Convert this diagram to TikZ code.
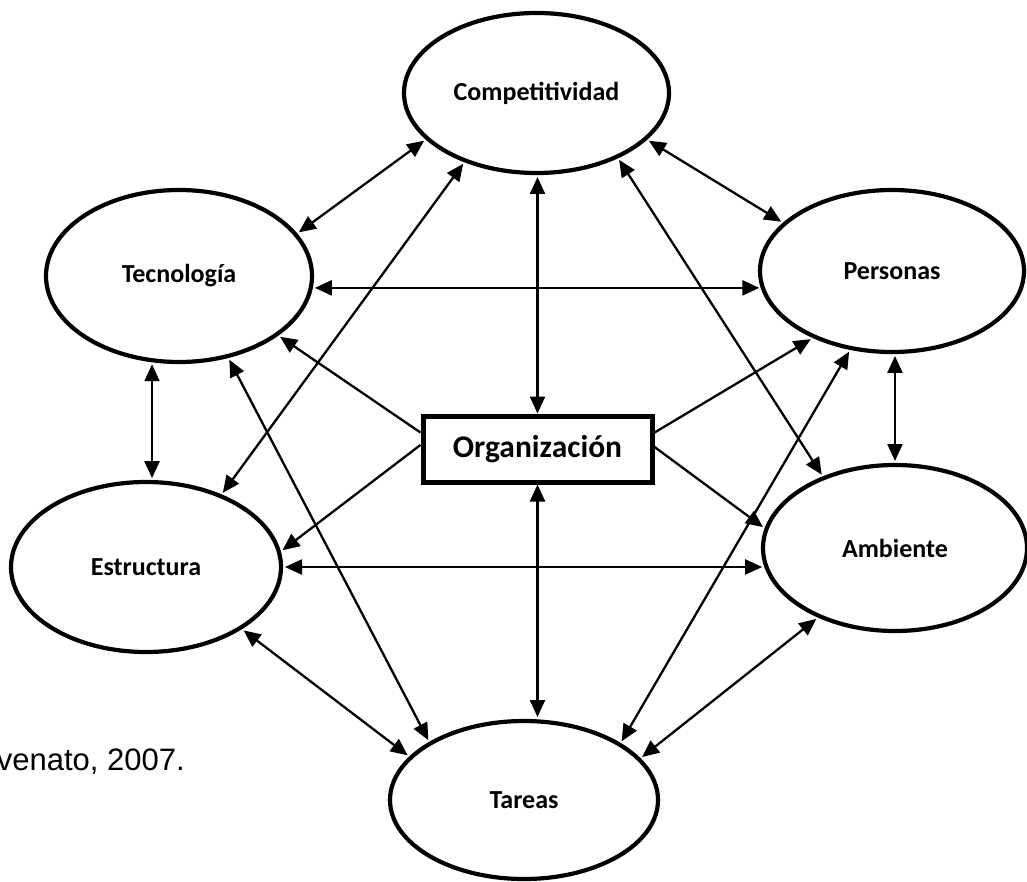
\documentclass[tikz,border=0pt]{standalone}
\usepackage{fontspec}
\setmainfont{Carlito}
\newfontfamily\citefont{Liberation Sans}
\usetikzlibrary{arrows.meta,shapes.geometric}

\begin{document}
\begin{tikzpicture}[x=1pt,y=-1pt,
  topic/.style={ellipse, draw, line width=4.2pt, inner sep=0pt, outer sep=4pt,
    font=\bfseries\fontsize{26}{30}\selectfont},
  core/.style={rectangle, draw, line width=5pt, inner sep=0pt, outer sep=2.5pt,
    minimum width=229pt, minimum height=66pt, font=\bfseries\fontsize{31.5}{36}\selectfont},
  tip/.tip={Triangle[length=17pt,width=15pt]},
  link/.style={line width=2.3pt, tip-tip},
  flow/.style={line width=2.3pt, -tip}]

\fill[white] (0,0) rectangle (1027,882);
\useasboundingbox (0,0) rectangle (1027,882);

% the six factors around the organisation
\node[topic, minimum width=265pt, minimum height=160pt] (comp) at (536.5,93) {Competitividad};
\node[topic, minimum width=266pt, minimum height=172pt] (tec)  at (179,276)  {Tecnología};
\node[topic, minimum width=264pt, minimum height=162pt] (pers) at (892,271)  {Personas};
\node[topic, minimum width=270pt, minimum height=170pt] (est)  at (146,567)  {Estructura};
\node[topic, minimum width=264pt, minimum height=166pt] (amb)  at (895,548)  {Ambiente};
\node[topic, minimum width=268pt, minimum height=158pt] (tar)  at (524,800)  {Tareas};

% central box
\node[core] (org) at (537.5,449) {Organización};

% source line, running off the left edge
\node[anchor=base east, inner sep=0pt, font=\citefont\fontsize{31}{36}\selectfont] (src) at (185,770) {venato, 2007.};

% mutual relations between the factors
\draw[link] (comp.203) -- (tec.20.5);
\draw[link] (comp.-23.3) -- (pers.156.4);
\draw[link] (tec.-5.9) -- (tec.-5.9 -| pers.188.4);
\draw[link] (tec.253.4) -- (tec.253.4 |- est.86.9);
\draw[link] (pers.-88) -- (pers.-88 |- amb.90);
\draw[link] (est.0) -- (est.0 -| amb.188.6);
\draw[link] (est.-33) -- (tar.159.9);
\draw[link] (amb.222.6) -- (tar.20.4);
\draw[link] (tec.-59.6) -- (tar.148);
\draw[link] (comp.224.8) -- (est.44.3);
\draw[link] (comp.-39.6) -- (amb.135.8);
\draw[link] (pers.242.6) -- (tar.31.5);

% the organisation and its surroundings
\draw[link] (comp.south -| org.north) -- (org.north);
\draw[link] (org.south) -- (org.south |- tar.north);
\draw[flow] (org.172.2) -- (tec.-31.5);
\draw[flow] (org.178.5) -- (est.7.9);
\draw[flow] (org.8.4) -- (pers.220.4);
\draw[flow] (org.1) -- (amb.171.4);
\end{tikzpicture}
\end{document}
